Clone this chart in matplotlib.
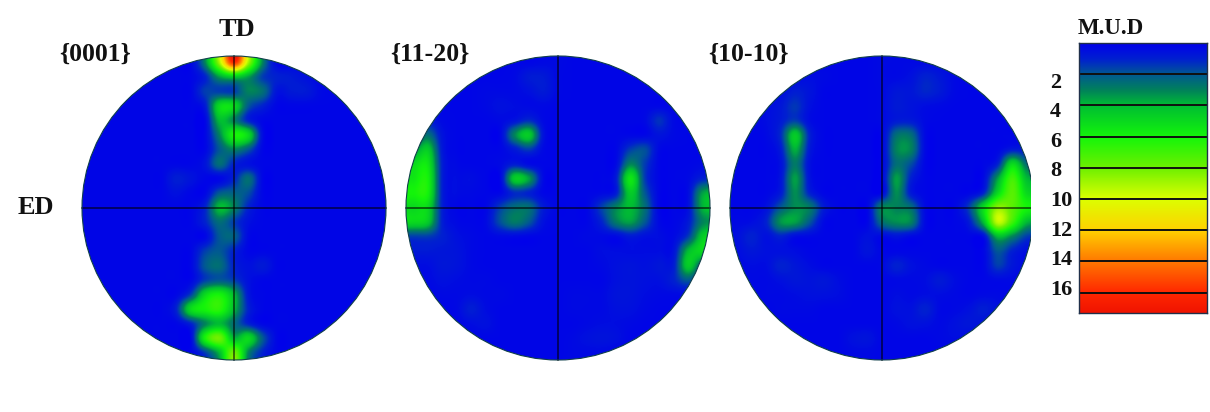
#!/usr/bin/env python
# -*- coding: utf-8 -*-
import numpy as np
import matplotlib
matplotlib.use('Agg')
import matplotlib.pyplot as plt
from matplotlib.colors import LinearSegmentedColormap
from matplotlib.patches import Circle, Rectangle

plt.rcParams['font.family'] = ['Liberation Serif', 'DejaVu Serif']
plt.rcParams['font.weight'] = 'bold'

FIG_W, FIG_H = 1210, 412
MUD_MAX = 17.3

# intensity, 21 x 21 cells, top row first
pf_0001 = [
    [.2, .2, .2, .2, .2, .2, .2, .2, 3, 9, 16, 9, 3, .2, .2, .2, .2, .2, .2, .2, .2],
    [.2, .2, .2, .2, .2, .2, .2, .2, 1, 3.5, 4.5, 3.5, 1.5, 1, .8, .5, .2, .2, .2, .2, .2],
    [.2, .2, .2, .2, .2, .2, .2, .2, 1.5, 1.5, 1.5, 3, 2.5, .6, .8, .8, .3, .2, .2, .2, .2],
    [.2, .2, .2, .2, .2, .2, .2, .2, .8, 5, 5, 2, 1, .2, .2, .2, .2, .2, .2, .2, .2],
    [.2, .2, .2, .2, .2, .2, .2, .2, .2, 4, 3, 1, .2, .2, .2, .2, .2, .2, .2, .2, .2],
    [.2, .2, .2, .2, .2, .2, .2, .2, .2, 3, 6, 5, .4, .2, .2, .2, .2, .2, .2, .2, .2],
    [.2, .2, .2, .2, .2, .2, .2, .2, .2, 2, 3, 2, .2, .2, .2, .2, .2, .2, .2, .2, .2],
    [.2, .2, .2, .2, .2, .2, .2, .2, .6, 2.5, 1, .5, .2, .2, .2, .2, .2, .2, .2, .2, .2],
    [.2, .2, .2, .2, .2, .2, .9, .6, .2, .2, 1, 2.5, .2, .2, .2, .2, .2, .2, .2, .2, .2],
    [.2, .2, .2, .2, .2, .2, .5, .2, .2, 2, 2.2, 1.8, .2, .2, .2, .2, .2, .2, .2, .2, .2],
    [.2, .2, .2, .2, .2, .2, .2, .2, 1, 4, 3, 1, .2, .2, .2, .2, .2, .2, .2, .2, .2],
    [.2, .2, .2, .2, .2, .2, .2, .2, 1, 2.5, 1.5, .5, .2, .2, .2, .2, .2, .2, .2, .2, .2],
    [.2, .2, .2, .2, .2, .2, .2, .2, .2, 2, 2.2, .3, .2, .2, .2, .2, .2, .2, .2, .2, .2],
    [.2, .2, .2, .2, .2, .2, .2, .2, 1.5, 2, 1, .2, .2, .2, .2, .2, .2, .2, .2, .2, .2],
    [.2, .2, .2, .2, .2, .2, .2, .2, 2, 2.5, 1, .5, .8, .2, .2, .2, .2, .2, .2, .2, .2],
    [.2, .2, .2, .2, .2, .2, .2, .2, 1.5, 2, 1.5, .5, .2, .2, .2, .2, .2, .2, .2, .2, .2],
    [.2, .2, .2, .2, .2, .2, .2, 1.5, 5, 6, 4, .7, .2, .2, .2, .2, .2, .2, .2, .2, .2],
    [.2, .2, .2, .2, .2, .2, 1, 5, 6, 6.5, 4, 1, .2, .2, .2, .2, .2, .2, .2, .2, .2],
    [.2, .2, .2, .2, .2, .2, .2, 1, 3, 4, 2.5, 1, .2, .2, .2, .2, .2, .2, .2, .2, .2],
    [.2, .2, .2, .2, .2, .2, .2, .2, 6, 8, 4, 5, 2, .2, .2, .2, .2, .2, .2, .2, .2],
    [.2, .2, .2, .2, .2, .2, .2, .2, 1.5, 4, 8, 3, 1, .2, .2, .2, .2, .2, .2, .2, .2],
]
pf_1120 = [
    [.2, .2, .2, .2, .2, .2, .2, .2, .2, .3, .3, .2, .2, .2, .2, .2, .2, .2, .2, .2, .2],
    [.2, .2, .2, .2, .2, .2, .2, .3, .8, .8, .3, .2, .2, .2, .2, .2, .2, .2, .2, .2, .2],
    [.2, .2, .2, .2, .2, .3, .3, .3, .5, .8, .3, .2, .2, .2, .2, .2, .2, .2, .2, .2, .2],
    [.2, .2, .2, .2, .2, .3, .5, .4, .3, .3, .2, .2, .2, .2, .2, .2, .2, .2, .2, .2, .2],
    [.2, .8, .3, .2, .2, .2, .3, .6, 1.2, .3, .2, .2, .2, .2, .2, .2, .3, 1.3, .3, .2, .2],
    [1, 2.5, .6, .2, .2, .2, .2, 3, 4.5, .6, .2, .2, .2, .2, .2, .2, .2, .6, .3, .2, .2],
    [3, 4.5, .8, .2, .2, .2, .2, .8, 1.5, .3, .2, .2, .2, .2, .2, 1.5, 1.8, .3, .2, .2, .2],
    [5, 5.5, 1, .3, .2, .2, .3, .8, .3, .2, .2, .2, .2, .2, .3, 3, 1.5, .2, .2, .2, .3],
    [5.5, 6, 1, .4, .4, .2, .2, 4.5, 3.5, .3, .2, .2, .2, .2, .8, 5.5, 1.5, .2, .2, .3, 1],
    [6, 6, 1, .4, .3, .2, .2, 1.2, 1, .2, .2, .2, .2, .3, .8, 4.5, 2, .2, .2, .4, 3.5],
    [5, 5, 1, .2, .2, .2, 1.5, 2.5, 2.5, .8, .2, .2, .2, 1.5, 3, 4, 2.5, .2, .2, .5, 3.8],
    [5, 4.5, 1, .3, .2, .3, 1.8, 2.8, 2, .5, .2, .2, .2, 1, 2.8, 3.5, 2, .3, .2, .8, 3],
    [1.5, 1.5, 1, .5, .3, .2, .3, .3, .2, .2, .2, .2, .3, .3, .3, .8, .5, .4, .3, 1.5, 4.5],
    [.8, .8, .7, .6, .3, .2, .2, .2, .2, .2, .2, .2, .2, .4, .4, .4, .4, .4, .6, 4, 5],
    [.4, .4, .7, .6, .3, .2, .2, .2, .2, .2, .2, .2, .2, .3, .5, .6, .5, .7, .9, 4.5, 2],
    [.3, .3, .5, .4, .3, .3, .2, .2, .2, .2, .2, .2, .2, .2, .5, .6, .5, .5, 1, 2, .6],
    [.2, .2, .3, .3, .4, .3, .3, .2, .2, .2, .2, .3, .3, .3, .6, .6, .4, .3, .3, .3, .2],
    [.2, .2, .2, .3, .9, .4, .2, .2, .2, .2, .2, .3, .3, .3, .5, .5, .3, .2, .2, .2, .2],
    [.2, .2, .2, .2, .4, .5, .2, .2, .2, .2, .2, .2, .3, .4, .4, .3, .2, .2, .2, .2, .2],
    [.2, .2, .2, .2, .2, .2, .2, .2, .2, .2, .2, .3, .5, .6, .5, .2, .2, .2, .2, .2, .2],
    [.2, .2, .2, .2, .2, .2, .2, .2, .2, .2, .2, .3, .3, .3, .2, .2, .2, .2, .2, .2, .2],
]
pf_1010 = [
    [.2, .2, .2, .2, .2, .3, .2, .2, .2, .2, .3, .3, .3, .3, .3, .3, .2, .2, .2, .2, .2],
    [.2, .2, .2, .2, .3, .4, .3, .2, .2, .2, .3, .3, .5, 1, .7, .3, .2, .2, .2, .2, .2],
    [.2, .2, .2, .4, .9, .6, .2, .2, .2, .2, .3, .7, .7, 1.1, .8, .3, .2, .2, .2, .2, .2],
    [.2, .2, .4, .7, 1.4, .5, .2, .2, .2, .2, .3, .8, .6, .4, .3, .2, .2, .2, .2, .2, .2],
    [.2, .2, .4, .8, 1.5, .4, .2, .2, .2, .2, .3, .8, .8, .3, .2, .2, .2, .2, .2, .2, .2],
    [.2, .2, .3, 1.2, 4.5, 1, .2, .2, .2, .2, .2, 2.5, 2.5, .3, .2, .2, .2, .2, .2, .2, .2],
    [.2, .2, .2, .8, 3.8, .8, .2, .2, .2, .2, .2, 3, 3, .3, .2, .2, .2, .2, .2, .8, .7],
    [.2, .2, .2, .5, 2.8, .5, .2, .2, .2, .2, .2, 2.5, 1.8, .2, .2, .2, .2, .2, 1, 5, 2.5],
    [.2, .2, .2, .6, 3.5, .6, .2, .2, .2, .2, .2, 3.5, 1, .2, .2, .2, .2, .3, 3.5, 7, 4],
    [.2, .2, .2, .8, 3.2, 1, .2, .2, .2, .2, .2, 3.2, .8, .2, .2, .2, .2, 1, 5, 7.5, 5],
    [.2, .2, .5, 2, 3.2, 2.8, .8, .2, .2, .2, 3, 3, 2.5, .3, .2, .2, 1.5, 5, 8.5, 7.5, 6],
    [.3, .4, 1, 3.3, 3.5, 2, .3, .2, .2, .2, 2.5, 3.2, 3, .3, .2, .2, .8, 4, 9.5, 7, 4],
    [.5, 1, .5, 1, .4, .3, .2, .2, .2, .5, .3, .6, .3, .2, .2, .2, .2, .4, 4, 3, 1.5],
    [.4, .7, .5, .5, .4, .2, .2, .2, .2, .6, .2, .2, .2, .2, .2, .2, .2, .2, 2, 1, .4],
    [.3, .4, .4, 1, .7, .4, .2, .2, .2, .2, .3, 1, .5, .3, .2, .2, .2, .2, 1.5, .7, .3],
    [.2, .3, .3, .5, .7, .6, .7, .4, .2, .2, .2, .3, .3, .4, .8, .4, .2, .2, .3, .3, .2],
    [.2, .2, .3, .3, .4, .5, .5, .4, .2, .2, .2, .4, .3, .4, .4, .3, .2, .3, .3, .2, .2],
    [.2, .2, .2, .3, .3, .3, .2, .2, .2, .2, .2, .5, .5, 1, .3, .3, .5, .9, .5, .2, .2],
    [.2, .2, .2, .2, .2, .2, .2, .2, .2, .2, .2, .3, .5, .5, .3, .5, .7, .5, .2, .2, .2],
    [.2, .2, .2, .2, .2, .2, .2, .2, .5, .6, .2, .2, .2, .2, .3, .4, .3, .2, .2, .2, .2],
    [.2, .2, .2, .2, .2, .2, .2, .2, .3, .3, .2, .2, .2, .2, .2, .2, .2, .2, .2, .2, .2],
]

pf_titles = ['{0001}', '{11-20}', '{10-10}']
cbar_ticks = [2, 4, 6, 8, 10, 12, 14, 16]
cbar_tick_y = [83, 112, 142, 171, 201, 231, 260, 290]
cbar_tick_x = [1050, 1050, 1050, 1050, 1050, 1050, 1050, 1050]

mud_levels = [0, 1, 2, 3, 4, 6, 8, 10, 12, 14, 16, MUD_MAX]
mud_colors = ['#0000eb', '#0020d0', '#005a91', '#00825a', '#00be32', '#14f50a',
              '#6ef000', '#dcff00', '#ffd200', '#ff7800', '#ff2800', '#f01400']
cmap = LinearSegmentedColormap.from_list(
    'mud', [(v / MUD_MAX, c) for v, c in zip(mud_levels, mud_colors)], N=512)


def px_axes(fig, x0, y0, x1, y1):
    # pixel box, y measured from the top of the picture
    return fig.add_axes([x0 / FIG_W, 1 - y1 / FIG_H, (x1 - x0) / FIG_W, (y1 - y0) / FIG_H])


def draw_pole(fig, grid, cx, cy, r, clip_right=None):
    ax = px_axes(fig, cx - r - 2, cy - r - 2, cx + r + 2, cy + r + 2)
    lim = 1 + 2.0 / r
    ax.set_xlim(-lim, lim)
    ax.set_ylim(-lim, lim)
    ax.axis('off')
    im = ax.imshow(np.array(grid), cmap=cmap, vmin=0, vmax=MUD_MAX, extent=[-1, 1, -1, 1],
                   interpolation='catrom', aspect='auto', zorder=1)
    circle = Circle((0, 0), 1, transform=ax.transData, fc='none', ec='none')
    ax.add_patch(circle)
    im.set_clip_path(circle)
    edge = Circle((0, 0), 1, fc='none', ec='#10404a', lw=0.8, zorder=3)
    ax.add_patch(edge)
    ax.plot([-1, 1], [0, 0], color='#000000', alpha=0.6, lw=1.3, zorder=2)
    ax.plot([0, 0], [-1, 1], color='#000000', alpha=0.6, lw=1.3, zorder=2)
    if clip_right is not None:
        # the source picture cuts this circle off on the right
        ax.add_patch(Rectangle((clip_right, -lim), lim - clip_right, 2 * lim, fc='white', ec='none', zorder=4))
    return ax


def draw_scale(fig):
    ax = px_axes(fig, 1079, 43, 1207, 313)
    gradient = np.linspace(0, MUD_MAX, 256).reshape(-1, 1)
    ax.imshow(gradient, cmap=cmap, vmin=0, vmax=MUD_MAX, extent=[0, 1, MUD_MAX, 0],
              aspect='auto', interpolation='bilinear')
    for v in cbar_ticks:
        ax.axhline(v, color='#101010', lw=1.4)
    ax.set_xticks([])
    ax.set_yticks([])
    for s in ax.spines.values():
        s.set_color('#20304a')
        s.set_linewidth(1.0)


def put_text(fig, x, y, s, size=17.5, ha='center'):
    fig.text(x / FIG_W, 1 - y / FIG_H, s, fontsize=size, fontweight='bold', ha=ha, va='center', color='#111111')


def main():
    fig = plt.figure(figsize=(FIG_W / 100.0, FIG_H / 100.0), dpi=100, facecolor='white')

    draw_pole(fig, pf_0001, 234, 208, 152)
    draw_pole(fig, pf_1120, 558, 208, 152)
    draw_pole(fig, pf_1010, 882, 208, 152, clip_right=0.98)
    draw_scale(fig)

    put_text(fig, 237, 29, 'TD', 19)
    put_text(fig, 36, 208, 'ED', 19)
    put_text(fig, 95, 54, pf_titles[0], 18.5)
    put_text(fig, 430, 54, pf_titles[1], 18.5)
    put_text(fig, 748, 54, pf_titles[2], 18.5)
    put_text(fig, 1111, 29, 'M.U.D', 16.5)
    for x, y, t in zip(cbar_tick_x, cbar_tick_y, cbar_ticks):
        put_text(fig, x, y, str(t), 16, ha='left')

    fig.savefig('out.png', dpi=100)


if __name__ == '__main__':
    main()
